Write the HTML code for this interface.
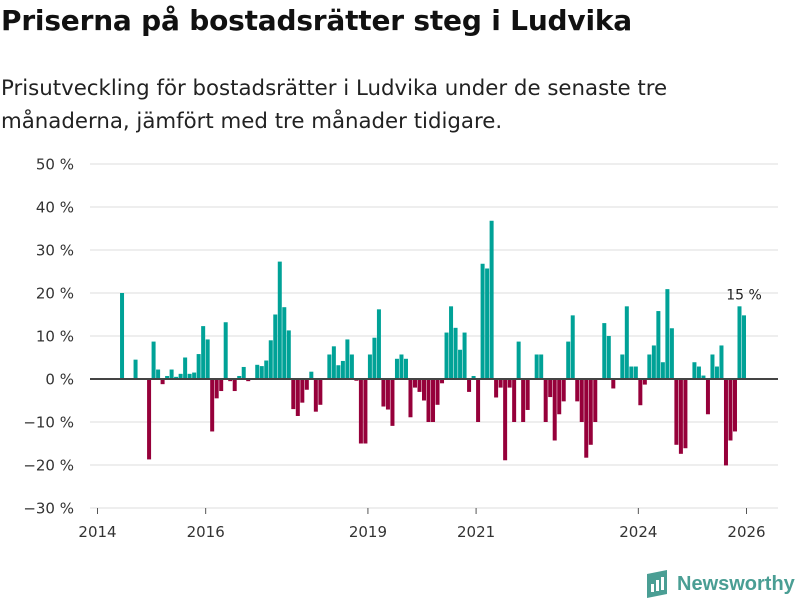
<!DOCTYPE html>
<html><head><meta charset="utf-8">
<style>
body{margin:0;width:800px;height:600px;background:#fff;overflow:hidden;font-family:"DejaVu Sans","Liberation Sans",sans-serif;}
#title{position:absolute;left:1px;top:4px;font-size:28px;font-weight:bold;color:#111;letter-spacing:-0.2px;white-space:nowrap;}
#sub{position:absolute;left:1px;top:72px;font-size:21.3px;line-height:33px;color:#222;white-space:nowrap;}
svg{position:absolute;left:0;top:0;}
</style></head><body>
<div id="title">Priserna på bostadsrätter steg i Ludvika</div>
<div id="sub">Prisutveckling för bostadsrätter i Ludvika under de senaste tre<br>månaderna, jämfört med tre månader tidigare.</div>
<svg id="chart" width="800" height="600"></svg>
<script>
const yTicks=[50,40,30,20,10,0,-10,-20,-30];
const yLabels=["50 %","40 %","30 %","20 %","10 %","0 %","−10 %","−20 %","−30 %"];
const xTickMonths=[0,24,60,84,120,144];
const xTickLabels=["2014","2016","2019","2021","2024","2026"];
const barMonths=[5,8,11,12,13,14,15,16,17,18,19,20,21,22,23,24,25,26,27,28,29,30,31,32,33,35,36,37,38,39,40,41,42,43,44,45,46,47,48,49,51,52,53,54,55,56,57,58,59,60,61,62,63,64,65,66,67,68,69,70,71,72,73,74,75,76,77,78,79,80,81,82,83,84,85,86,87,88,89,90,91,92,93,94,95,97,98,99,100,101,102,103,104,105,106,107,108,109,110,112,113,114,116,117,118,119,120,121,122,123,124,125,126,127,128,129,130,132,133,134,135,136,137,138,139,140,141,142,143];
const barValues=[20,4.5,-18.7,8.7,2.2,-1.2,0.7,2.2,0.5,1.2,5,1.2,1.5,5.8,12.3,9.2,-12.2,-4.5,-2.8,13.2,-0.5,-2.8,0.7,2.8,-0.5,3.3,3,4.3,9,15,27.3,16.7,11.3,-7,-8.6,-5.5,-2.5,1.7,-7.6,-6,5.7,7.6,3.2,4.2,9.2,5.7,-0.4,-15,-15,5.7,9.6,16.2,-6.4,-7.1,-10.9,4.7,5.7,4.7,-8.9,-2,-3,-5,-10,-10,-6,-1,10.8,16.9,11.9,6.8,10.8,-3,0.7,-10,26.8,25.7,36.8,-4.3,-2,-18.9,-2,-10,8.7,-10,-7.2,5.7,5.7,-10,-4.2,-14.3,-8.2,-5.2,8.7,14.8,-5.2,-10,-18.3,-15.3,-10,13,10,-2.2,5.7,16.9,2.9,2.9,-6.1,-1.3,5.7,7.8,15.8,3.9,20.9,11.8,-15.3,-17.4,-16.1,3.9,2.9,0.8,-8.2,5.7,2.9,7.8,-20.1,-14.3,-12.2,16.9,14.8];
const lastLabel="15 %";

const NS="http://www.w3.org/2000/svg";
const svg=document.getElementById('chart');
const y=v=>379-v*4.3;
const x=m=>97.5+m*4.507;
function mk(t,a){const e=document.createElementNS(NS,t);for(const k in a)e.setAttribute(k,a[k]);svg.appendChild(e);return e;}
yTicks.forEach((v,i)=>{
  if(v!==0&&v!==-30){const g=mk('line',{x1:90,x2:778,y1:y(v),y2:y(v),stroke:'#dcdcdc','stroke-width':1});
  
  }
  const t=mk('text',{x:74,y:y(v)+5.5,'text-anchor':'end','font-size':15,fill:'#333'});
  t.textContent=yLabels[i];
  
  
});
const base=mk('line',{x1:90,x2:778,y1:y(-30),y2:y(-30),stroke:'#dcdcdc','stroke-width':1});


xTickMonths.forEach((m,i)=>{
  const tk=mk('line',{x1:x(m),x2:x(m),y1:y(-30),y2:y(-30)+6,stroke:'#555','stroke-width':1});
  
  
  const t=mk('text',{x:x(m),y:537,'text-anchor':'middle','font-size':15,fill:'#333'});
  t.textContent=xTickLabels[i];
  
  
});
barMonths.forEach((m,i)=>{
  const v=barValues[i];
  const r=mk('rect',{x:x(m),width:4,y:Math.min(y(v),y(0)),height:Math.abs(y(v)-y(0)),fill:v>=0?'#00a297':'#96003a'});
  
  
});
const zero=mk('line',{x1:90,x2:778,y1:y(0),y2:y(0),stroke:'#444','stroke-width':2});


const lm=barMonths[barMonths.length-1], lv=barValues[barValues.length-1];
const lt=mk('text',{x:x(lm)+2,y:y(lv)-16,'text-anchor':'middle','font-size':14,fill:'#222'});
lt.textContent=lastLabel;


</script>
<div style="position:absolute;left:645px;top:569px;height:30px;display:flex;align-items:center;">
  <svg width="24" height="28" viewBox="0 0 24 28" style="position:static"><path d="M2 4 L22 0 L22 24 L2 28 Z" fill="#4a9e94"/><rect x="6" y="14" width="3" height="8" fill="#fff"/><rect x="11" y="10" width="3" height="11" fill="#fff"/><rect x="16" y="7" width="3" height="13" fill="#fff"/></svg>
  <span style="margin-left:8px;font-family:'Liberation Sans',sans-serif;font-size:20px;font-weight:bold;color:#4a9e94;">Newsworthy</span>
</div>
</body></html>
